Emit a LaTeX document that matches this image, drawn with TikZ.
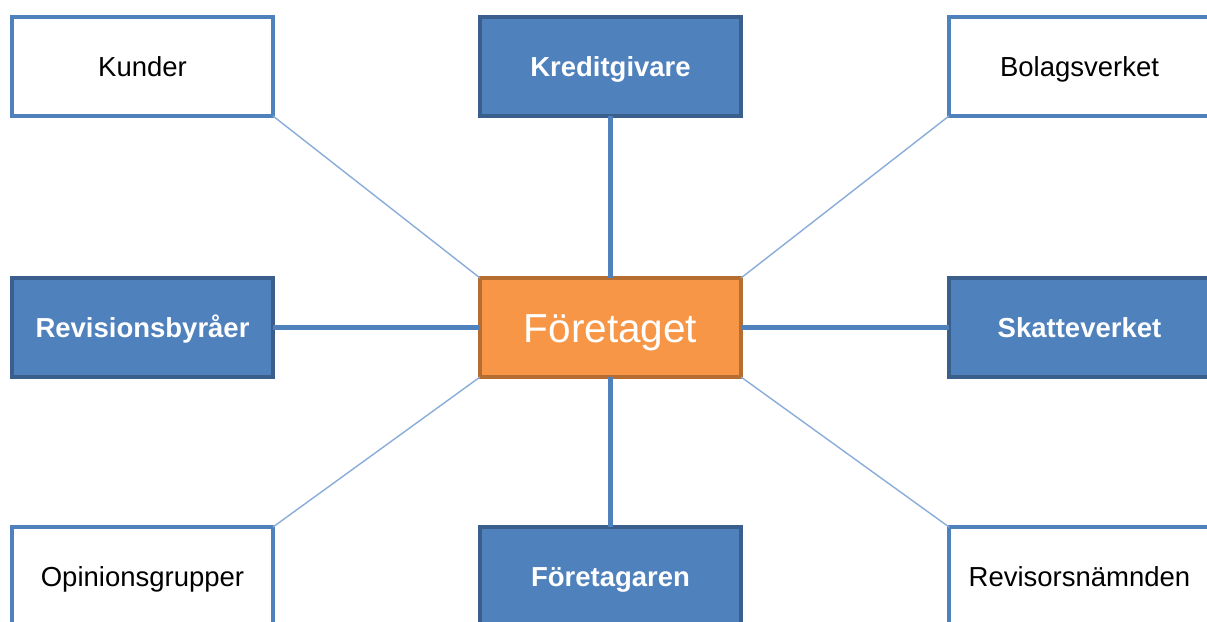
\documentclass[tikz,border=0pt]{standalone}
\usepackage{fontspec}
\setmainfont{Liberation Sans}
\definecolor{obl}{HTML}{4F81BD}
\definecolor{obld}{HTML}{3A5F8C}
\definecolor{oor}{HTML}{F79646}
\definecolor{oord}{HTML}{B66D31}
\definecolor{thinl}{HTML}{8AACDA}
\begin{document}
\begin{tikzpicture}[x=1pt,y=-1pt,
  box/.style={rectangle,minimum width=261pt,minimum height=99pt,line width=3.5pt,inner sep=0pt,outer sep=0pt},
  whitebox/.style={box,draw=obl,fill=white,text=black,font=\fontsize{27.5}{32}\selectfont,text height=19.7pt,text depth=0pt},
  bluebox/.style={box,draw=obld,fill=obl,text=white,font=\fontsize{27.5}{32}\selectfont\bfseries,text height=19.7pt,text depth=0pt},
  centerbox/.style={box,draw=oord,fill=oor,text=white,font=\fontsize{40.5}{46}\selectfont,text height=29pt,text depth=0pt},
  thick/.style={draw=obl,line width=5.5pt},
  thin/.style={draw=thinl,line width=1.4pt}]
\useasboundingbox (0,0) rectangle (1207,621);
\node[centerbox] (c) at (610.5,327.5) {Företaget};
\node[whitebox] (kun) at (142.5,66.5) {Kunder};
\node[bluebox] (kre) at (610.5,66.5) {Kreditgivare};
\node[whitebox] (bol) at (1079.5,66.5) {Bolagsverket};
\node[bluebox] (rev) at (142.5,327.5) {Revisionsbyråer};
\node[bluebox] (ska) at (1079.5,327.5) {Skatteverket};
\node[whitebox] (opi) at (142.5,576.5) {Opinionsgrupper};
\node[bluebox] (for) at (610.5,576.5) {Företagaren};
\node[whitebox] (rvn) at (1079.5,576.5) {Revisorsnämnden};
\path[thick] (kre.south) -- (c.north);
\path[thick] (for.north) -- (c.south);
\path[thick] (rev.east) -- (c.west);
\path[thick] (ska.west) -- (c.east);
\path[thin] (kun.south east) -- (c.north west);
\path[thin] (bol.south west) -- (c.north east);
\path[thin] (opi.north east) -- (c.south west);
\path[thin] (rvn.north west) -- (c.south east);
\end{tikzpicture}
\end{document}
